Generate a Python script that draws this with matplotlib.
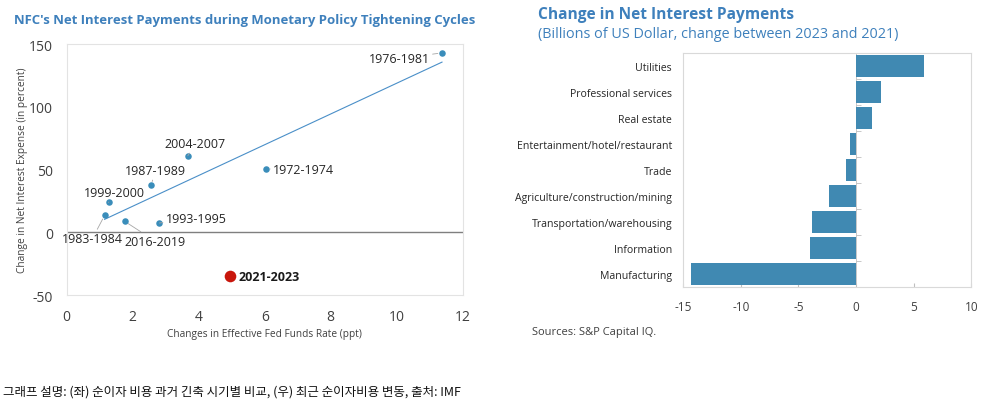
import numpy as np
import matplotlib
matplotlib.use("Agg")
import matplotlib.pyplot as plt

plt.rcParams['font.family'] = ['Open Sans', 'DejaVu Sans']
plt.rcParams['axes.unicode_minus'] = False

# left chart: tightening cycles
periods = ["1976-1981", "2004-2007", "1972-1974", "1987-1989", "1999-2000",
           "1983-1984", "2016-2019", "1993-1995"]
rate_chg = [11.37, 3.67, 6.03, 2.55, 1.27, 1.15, 1.76, 2.81]
nie_chg = [143, 61, 50.5, 37.3, 23.8, 13.5, 8.7, 7.4]
# label positions (data coords) and alignment
lab_x = [11.0, 3.9, 6.25, 2.7, 1.45, 0.78, 2.68, 3.0]
lab_y = [138.5, 70.5, 50, 49, 31.5, -5, -7, 11]
lab_ha = ["right", "center", "left", "center", "center", "center", "center", "left"]

recent_label = "2021-2023"
recent_x = 4.95
recent_y = -35

# right chart: sectors
sectors = ["Utilities", "Professional services", "Real estate",
           "Entertainment/hotel/restaurant", "Trade",
           "Agriculture/construction/mining", "Transportation/warehousing",
           "Information", "Manufacturing"]
sector_chg = [5.9, 2.15, 1.35, -0.5, -0.9, -2.3, -3.85, -3.95, -14.3]

blue_title = "#3E80BC"
dot_blue = "#3A8DBA"
bar_blue = "#4089B2"
frame_c = "#E3E3E3"
tick_c = "#404040"

fig = plt.figure(figsize=(9.83, 4.10), dpi=100)

# ---- left
ax = fig.add_axes([0.0678, 0.278, 0.403, 0.612])
ax.scatter(rate_chg, nie_chg, s=22, color=dot_blue, zorder=3, linewidths=0)
ax.scatter([recent_x], [recent_y], s=70, color="#C8160C", zorder=3, linewidths=0)

# trend line from the eight cycles
k, b = np.polyfit(rate_chg, nie_chg, 1)
xs = np.array([min(rate_chg), max(rate_chg)])
ax.plot(xs, k * xs + b, color="#4A8FC8", lw=0.8, zorder=2)

ax.axhline(0, color="#7F7F7F", lw=1.0, zorder=1)

for i in range(len(periods)):
    ax.annotate(periods[i], xy=(rate_chg[i], nie_chg[i]), xytext=(lab_x[i], lab_y[i]),
                ha=lab_ha[i], va="center", fontsize=9, color="#262626",
                arrowprops=dict(arrowstyle="-", color="#A6A6A6", lw=0.6,
                                shrinkA=0, shrinkB=3))
ax.text(recent_x + 0.27, recent_y, recent_label, ha="left", va="center",
        fontsize=9, fontweight="bold", color="#1A1A1A")

ax.set_xlim(0, 12)
ax.set_ylim(-50, 150)
ax.set_xticks(range(0, 13, 2))
ax.set_yticks([-50, 0, 50, 100, 150])
ax.tick_params(length=0, labelsize=10, colors=tick_c, pad=10)
for s in ax.spines.values():
    s.set_color(frame_c)
    s.set_linewidth(0.8)

fig.text(0.0142, 0.949, "NFC's Net Interest Payments during Monetary Policy Tightening Cycles",
         fontsize=9.45, fontweight="bold", color=blue_title, ha="left", va="center")
fig.text(0.269, 0.185, "Changes in Effective Fed Funds Rate (ppt)", fontsize=7.3,
         color="#404040", ha="center", va="center")
fig.text(0.0224, 0.584, "Change in Net Interest Expense (in percent)", fontsize=7.3,
         color="#404040", ha="center", va="center", rotation=90)

# ---- right
ax2 = fig.add_axes([0.695, 0.2968, 0.293, 0.5707])
ypos = np.arange(len(sectors))
ax2.barh(ypos, sector_chg, height=0.85, color=bar_blue, zorder=2)
ax2.set_ylim(len(sectors) - 0.5, -0.5)
ax2.set_xlim(-15, 10)
ax2.set_xticks([-15, -10, -5, 0, 5, 10])
ax2.set_yticks(ypos)
ax2.set_yticklabels(sectors)
ax2.tick_params(axis="y", length=0, labelsize=7.6, colors="#262626", pad=8)
ax2.tick_params(axis="x", direction="in", length=3, color="#BFBFBF",
                labelsize=8.5, colors=tick_c, pad=9)
ax2.tick_params(axis="x", color="#BFBFBF")
ax2.axvline(0, color="#BFBFBF", lw=0.6, zorder=1)
ax2.hlines(ypos[:-1] + 0.5, 0, 0.45, color="#BFBFBF", lw=0.6, zorder=1)
for s in ax2.spines.values():
    s.set_color("#D9D9D9")
    s.set_linewidth(0.8)

fig.text(0.5476, 0.963, "Change in Net Interest Payments", fontsize=11.2,
         fontweight="bold", color=blue_title, ha="left", va="center")
fig.text(0.5476, 0.916, "(Billions of US Dollar, change between 2023 and 2021)",
         fontsize=10.4, color=blue_title, ha="left", va="center")
fig.text(0.541, 0.188, "Sources: S&P Capital IQ.", fontsize=8, color="#404040",
         ha="left", va="center")

fig.text(0.003, 0.045, "그래프 설명: (좌) 순이자 비용 과거 긴축 시기별 비교, (우) 최근 순이자비용 변동, 출처: IMF",
         fontsize=9, color="#111111", ha="left", va="center",
         family=["Noto Sans CJK KR", "DejaVu Sans"])

fig.savefig("out.png", dpi=100)
